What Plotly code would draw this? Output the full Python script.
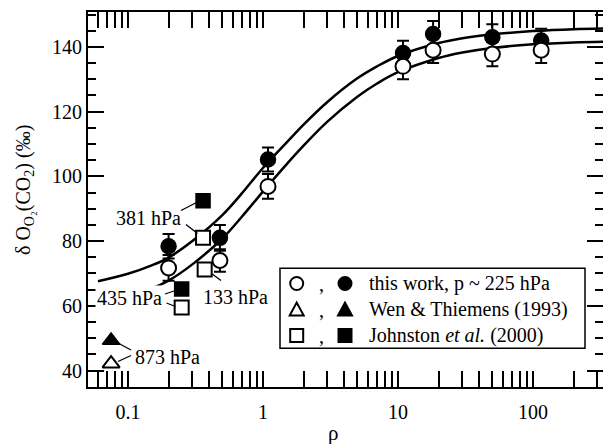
import plotly.graph_objects as go
import math

# ---------------- data ----------------
rho_this = [0.2, 0.48, 1.09, 10.9, 18.2, 50, 115]
d_filled = [78.4, 81.0, 105.2, 138.1, 144.0, 143.0, 142.0]
e_filled = [3.8, 4.0, 3.7, 3.8, 4.0, 4.0, 3.6]
d_open = [71.7, 74.0, 96.9, 134.0, 139.0, 137.8, 139.0]
e_open = [4.0, 3.5, 3.8, 4.0, 4.0, 3.8, 4.0]

rho_wen = [0.075]
d_wen_filled = [49.3]
d_wen_open = [42.1]

rho_joh = [0.36, 0.25, 0.37]
d_joh_open = [81.0, 59.5, 71.2]
rho_joh_filled = [0.36, 0.25]
d_joh_filled = [92.5, 65.2]

curve_x = [0.06, 0.1, 0.15, 0.2, 0.3, 0.5, 0.7, 1, 1.5, 2, 3, 5, 7, 10, 20, 30, 50, 100, 200, 330]
curve_upper = [67.6, 69.9, 72.5, 74.9, 80.0, 88.0, 94.8, 102.6, 110.5, 116.0, 123.0, 130.3,
               134.0, 137.2, 141.2, 142.7, 143.9, 144.9, 145.5, 145.7]
curve_lower = [60.7, 62.9, 65.4, 67.8, 72.8, 80.8, 87.6, 95.3, 103.8, 109.5, 116.9, 124.6,
               128.7, 132.2, 136.6, 138.3, 139.7, 140.8, 141.4, 141.6]

x_major = [0.1, 1, 10, 100]
x_labels = ["0.1", "1", "10", "100"]
x_minor = [0.06, 0.07, 0.08, 0.09] + [k * 0.1 for k in range(2, 10)] + \
          [k * 1.0 for k in range(2, 10)] + [k * 10.0 for k in range(2, 10)] + [200, 300]
y_major = [40, 60, 80, 100, 120, 140]
y_minor = [35, 45, 50, 55, 65, 70, 75, 85, 90, 95, 105, 110, 115, 125, 130, 135, 145, 150]

legend_labels = ["this work, p ~ 225 hPa", "Wen &amp; Thiemens (1993)", "Johnston <i>et al.</i> (2000)"]

# ---------------- geometry ----------------
FW, FH = 603, 444
L, T, B = 88, 12, 57
W = FW - L
H = FH - T - B
BOT = FH - B


def P(px, py):
    return (px - L) / W, (BOT - py) / H


FONT = "Liberation Serif"
fig = go.Figure()

line_style = dict(color="black", width=2.5, shape="spline")
fig.add_trace(go.Scatter(x=curve_x, y=curve_upper, mode="lines", line=line_style,
                         showlegend=False, hoverinfo="skip"))
fig.add_trace(go.Scatter(x=curve_x, y=curve_lower, mode="lines", line=line_style,
                         showlegend=False, hoverinfo="skip"))

err_style = dict(type="data", thickness=2, width=6, color="black")
fig.add_trace(go.Scatter(x=rho_this, y=d_filled, mode="markers",
                         error_y=dict(array=e_filled, **err_style),
                         marker=dict(symbol="circle", size=15, color="black",
                                     line=dict(color="black", width=1.5)),
                         showlegend=False))
fig.add_trace(go.Scatter(x=rho_this, y=d_open, mode="markers",
                         error_y=dict(array=e_open, **err_style),
                         marker=dict(symbol="circle", size=15, color="white",
                                     line=dict(color="black", width=2)),
                         showlegend=False))
fig.add_trace(go.Scatter(x=rho_wen, y=d_wen_filled, mode="markers",
                         marker=dict(symbol="triangle-up", size=15, color="black",
                                     line=dict(color="black", width=1.5)),
                         showlegend=False))
fig.add_trace(go.Scatter(x=rho_wen, y=d_wen_open, mode="markers",
                         marker=dict(symbol="triangle-up", size=15, color="white",
                                     line=dict(color="black", width=2)),
                         showlegend=False))
fig.add_trace(go.Scatter(x=rho_joh_filled, y=d_joh_filled, mode="markers",
                         marker=dict(symbol="square", size=14, color="black",
                                     line=dict(color="black", width=1.5)),
                         showlegend=False))
fig.add_trace(go.Scatter(x=rho_joh, y=d_joh_open, mode="markers",
                         marker=dict(symbol="square", size=14, color="white",
                                     line=dict(color="black", width=2)),
                         showlegend=False))
# dummy trace to activate the right-side tick axis
fig.add_trace(go.Scatter(x=[1], y=[100], yaxis="y2", mode="markers",
                         marker=dict(opacity=0), showlegend=False, hoverinfo="skip"))

shapes = []
annotations = []


def seg(p1, p2, w=1.3):
    x0, y0 = P(*p1)
    x1, y1 = P(*p2)
    shapes.append(dict(type="line", xref="paper", yref="paper", x0=x0, y0=y0, x1=x1, y1=y1,
                       line=dict(color="black", width=w)))


def label(text, px, py, bg=None):
    x, y = P(px, py)
    d = dict(text=text, x=x, y=y, xref="paper", yref="paper", showarrow=False,
             xanchor="center", yanchor="middle", font=dict(family=FONT, size=20, color="black"))
    if bg:
        d["bgcolor"] = bg
    annotations.append(d)


# pressure labels with leader lines
label("381 hPa", 148, 218)
seg((181, 210.5), (196.5, 202.5))
seg((186, 224.5), (197.5, 233.5))
label("435 hPa", 129, 298.3, bg="white")
seg((165, 294), (175.5, 290.5))
seg((166.5, 303), (175.5, 306.5))
label("133 hPa", 236, 297)
seg((211.5, 273.5), (221, 280.5))
label("873 hPa", 167, 356.7)
seg((118, 343), (131, 350))
seg((118, 361.5), (131, 355.5))

# legend box
bx0, by0 = P(280, 348.3)
bx1, by1 = P(585, 268.3)
shapes.append(dict(type="rect", xref="paper", yref="paper", x0=bx0, y0=by0, x1=bx1, y1=by1,
                   line=dict(color="black", width=1.5), fillcolor="white", layer="above"))

rows = [283.5, 309.5, 335.5]
symbols = ["circle", "triangle", "square"]
for ry, sym, txt in zip(rows, symbols, legend_labels):
    for cx, fill in ((296.7, "white"), (345, "black")):
        if sym == "circle":
            x0, y0 = P(cx - 6.5, ry + 6.5)
            x1, y1 = P(cx + 6.5, ry - 6.5)
            shapes.append(dict(type="circle", xref="paper", yref="paper", x0=x0, y0=y0, x1=x1, y1=y1,
                               line=dict(color="black", width=2), fillcolor=fill, layer="above"))
        elif sym == "square":
            x0, y0 = P(cx - 6.5, ry + 6.5)
            x1, y1 = P(cx + 6.5, ry - 6.5)
            shapes.append(dict(type="rect", xref="paper", yref="paper", x0=x0, y0=y0, x1=x1, y1=y1,
                               line=dict(color="black", width=2), fillcolor=fill, layer="above"))
        else:
            a = P(cx - 7, ry + 6)
            b = P(cx + 7, ry + 6)
            c = P(cx, ry - 7)
            path = f"M {a[0]} {a[1]} L {b[0]} {b[1]} L {c[0]} {c[1]} Z"
            shapes.append(dict(type="path", xref="paper", yref="paper", path=path,
                               line=dict(color="black", width=2), fillcolor=fill, layer="above"))
    cxp, cyp = P(321.7, ry)
    annotations.append(dict(text=",", x=cxp, y=cyp, xref="paper", yref="paper", showarrow=False,
                            xanchor="center", yanchor="middle",
                            font=dict(family=FONT, size=20, color="black")))
    tx, ty = P(366.7, ry)
    annotations.append(dict(text=txt, x=tx, y=ty, xref="paper", yref="paper", showarrow=False,
                            xanchor="left", yanchor="middle",
                            font=dict(family=FONT, size=20, color="black")))

# axis titles
tx, ty = P(333, 433)
annotations.append(dict(text="ρ", x=tx, y=ty, xref="paper", yref="paper", showarrow=False,
                        xanchor="center", yanchor="middle", font=dict(family=FONT, size=21, color="black")))
tx, ty = P(24, 190)
annotations.append(dict(text="δ O<sub>O₂</sub>(CO<sub>2</sub>) (‰)", x=tx, y=ty,
                        xref="paper", yref="paper", showarrow=False, textangle=-90,
                        xanchor="center", yanchor="middle", font=dict(family=FONT, size=20, color="black")))

yr = [34.9, 150.8]
fig.update_layout(
    width=FW, height=FH,
    margin=dict(l=L, r=0, t=T, b=B),
    paper_bgcolor="white", plot_bgcolor="white",
    font=dict(family=FONT, size=20, color="black"),
    showlegend=False,
    shapes=shapes, annotations=annotations,
    xaxis=dict(type="log", range=[math.log10(0.0506), math.log10(330)],
               showline=True, linecolor="black", linewidth=2, mirror="allticks",
               ticks="inside", ticklen=16, tickwidth=1.8, tickcolor="black",
               tickmode="array", tickvals=x_major, ticktext=x_labels, ticklabelstandoff=6,
               minor=dict(tickmode="array", tickvals=x_minor, ticks="inside", ticklen=8,
                          tickwidth=1.8, tickcolor="black", showgrid=False),
               showgrid=False, zeroline=False,
               tickfont=dict(family=FONT, size=20, color="black")),
    yaxis=dict(range=yr, showline=True, linecolor="black", linewidth=2, mirror=False,
               ticks="inside", ticklen=16, tickwidth=1.8, tickcolor="black",
               tickmode="array", tickvals=y_major,
               minor=dict(tickmode="array", tickvals=y_minor, ticks="inside", ticklen=8,
                          tickwidth=1.8, tickcolor="black", showgrid=False),
               showgrid=False, zeroline=False,
               tickfont=dict(family=FONT, size=20, color="black")),
    yaxis2=dict(range=yr, overlaying="y", side="right", showline=False,
                ticks="inside", ticklen=16, tickwidth=1.8, tickcolor="black",
                tickmode="array", tickvals=y_major, showticklabels=False,
                minor=dict(tickmode="array", tickvals=y_minor, ticks="inside", ticklen=8,
                           tickwidth=1.8, tickcolor="black", showgrid=False),
                showgrid=False, zeroline=False),
)

fig.write_html("out.html", config={"displayModeBar": False},
               post_script="document.body.style.margin='0px';")
